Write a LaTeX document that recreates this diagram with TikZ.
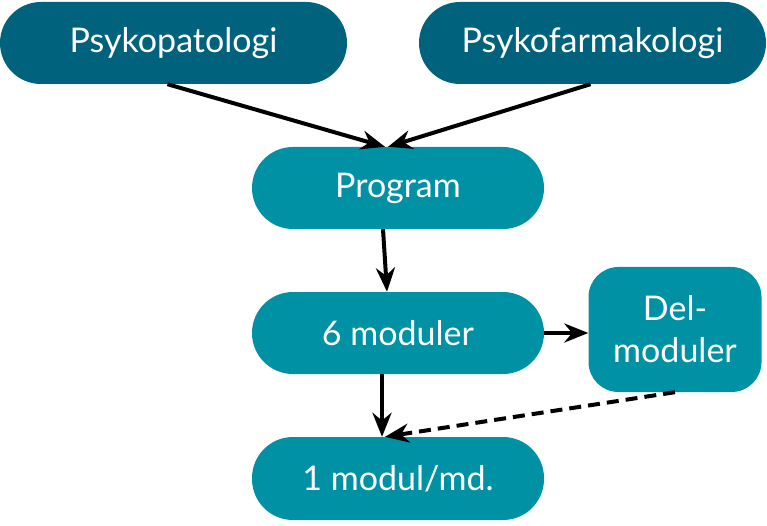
\documentclass[tikz,border=0pt]{standalone}
\usepackage{fontspec}
\setmainfont{Lato}
\usetikzlibrary{arrows.meta}
\definecolor{darkteal}{HTML}{00627D}
\definecolor{lightteal}{HTML}{0091A5}
\begin{document}
\begin{tikzpicture}[x=1pt,y=-1pt,
  pill/.style={rounded corners=41pt, minimum height=82pt, text=white, font=\fontsize{34}{40}\selectfont, inner sep=0pt},
  topbox/.style={pill, fill=darkteal, minimum width=347pt},
  midbox/.style={pill, fill=lightteal, minimum width=292pt},
  sidebox/.style={fill=lightteal, rounded corners=30pt, minimum width=173pt, minimum height=125pt, text=white, font=\fontsize{34}{42}\selectfont, align=center, inner sep=0pt},
  conn/.style={line width=4pt, -{Stealth[length=24pt,width=19pt]}}]
\useasboundingbox (0,0) rectangle (767,526);
\node[topbox] (p1) at (173.5,43) {Psykopatologi};
\node[topbox] (p2) at (592.5,43) {Psykofarmakologi};
\node[midbox] (prog) at (398,188) {Program};
\node[midbox] (six) at (398,333) {6 moduler};
\node[sidebox] (del) at (675,329.5) {Del-\\moduler};
\node[midbox, minimum height=83pt] (one) at (398,478.5) {1 modul/md.};
\draw[conn] ([xshift=-6pt]p1.south) -- ([xshift=-13pt]prog.north);
\draw[conn] ([xshift=-2pt]p2.south) -- ([xshift=-10pt]prog.north);
\draw[conn] ([xshift=-15pt]prog.south) -- ([xshift=-11pt]six.north);
\draw[conn] ([xshift=-16pt]six.south) -- ([xshift=-16pt]one.north);
\draw[conn] (six.east) -- (six.east -| del.west);
\draw[conn, dashed, dash pattern=on 12pt off 7pt] (del.south) -- ([xshift=-13pt]one.north);
\end{tikzpicture}
\end{document}
